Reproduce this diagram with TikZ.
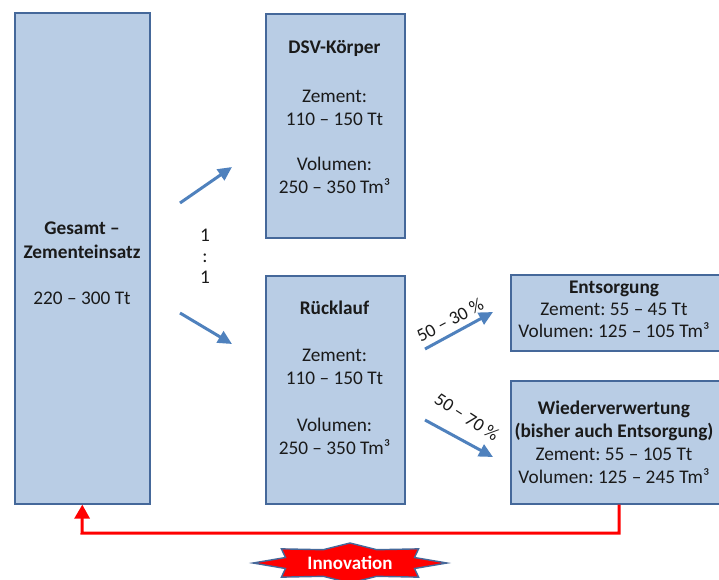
\documentclass[tikz,border=0pt]{standalone}
\usepackage{fontspec}
\setmainfont{Carlito}
\frenchspacing
\usetikzlibrary{arrows.meta}
\definecolor{boxfill}{HTML}{B9CDE5}
\definecolor{boxline}{HTML}{45689A}
\definecolor{flowblue}{HTML}{4F81BD}
\definecolor{txtcol}{HTML}{1A1A1A}
\tikzset{
  box/.style={draw=boxline, fill=boxfill, line width=1.6pt, inner sep=0pt},
  txt/.style={align=center, text=txtcol, inner sep=0pt,
    font=\fontsize{19.3}{23}\selectfont},
  flow/.style={draw=flowblue, line width=3pt,
    -{Triangle[length=14pt,width=13pt]}},
  back/.style={draw=red, line width=3pt,
    -{Triangle[length=14pt,width=15pt]}},
  pct/.style={text=txtcol, inner sep=0pt, font=\fontsize{18.5}{20}\selectfont},
}
\begin{document}
\begin{tikzpicture}[x=1pt, y=-1pt]
\useasboundingbox (0,0) rectangle (719,579);
\begin{scope}
\clip (0,0) rectangle (719,579);

% boxes
\node[box, anchor=north west, minimum width=135pt, minimum height=491pt] (total) at (14,12) {};
\node[box, anchor=north west, minimum width=139pt, minimum height=224pt] (dsv) at (265,13) {};
\node[box, anchor=north west, minimum width=139pt, minimum height=228pt] (ruck) at (265,275) {};
\node[box, anchor=north west, minimum width=214pt, minimum height=76pt] (ents) at (510,274) {};
\node[box, anchor=north west, minimum width=214pt, minimum height=123pt] (wied) at (510,380) {};

% box texts
\node[txt, font=\fontsize{19.3}{24}\selectfont] (ttotal) at (82,263) {\textbf{Gesamt --}\\ \textbf{Zementeinsatz}\\[22pt] 220 -- 300 Tt};
\node[txt] (tdsv) at (334.5,117) {\textbf{DSV-Körper}\\[26pt] Zement:\\ 110 -- 150 Tt\\[22pt] Volumen:\\ 250 -- 350 Tm³};
\node[txt] (truck) at (334.5,378) {\textbf{Rücklauf}\\[24pt] Zement:\\ 110 -- 150 Tt\\[24pt] Volumen:\\ 250 -- 350 Tm³};
\node[txt, font=\fontsize{19.3}{22}\selectfont] (tents) at (614,309) {\textbf{Entsorgung}\\ Zement: 55 -- 45 Tt\\ Volumen: 125 -- 105 Tm³};
\node[txt, font=\fontsize{19.3}{23}\selectfont] (twied) at (614,442.5) {\textbf{Wiederverwertung}\\ \textbf{(bisher auch Entsorgung)}\\ Zement: 55 -- 105 Tt\\ Volumen: 125 -- 245 Tm³};

% ratio
\node[txt] (ratio) at (205,256) {1\\[-2pt]:\\[-2pt]1};

% split arrows
\coordinate (a1s) at (180,203); \coordinate (a1e) at (232,167);
\coordinate (a2s) at (180,313); \coordinate (a2e) at (232,344);
\coordinate (a3s) at (425,349); \coordinate (a3e) at (493,312);
\coordinate (a4s) at (425,420); \coordinate (a4e) at (493,457);
\draw[flow] (a1s) -- (a1e);
\draw[flow] (a2s) -- (a2e);
\draw[flow] (a3s) -- (a3e);
\draw[flow] (a4s) -- (a4e);
\node[pct, rotate=28] (p1) at (450,320) {50 -- 30 \%};
\node[pct, rotate=-33] (p2) at (467,417) {50 -- 70 \%};

% feedback loop
\coordinate (r1) at (wied.south -| 619,0);
\coordinate (r2) at (619,533);
\coordinate (r3) at (82,533);
\draw[back] (r1) -- (r2) -- (r3) -- (total.south);

% innovation star
\begin{scope}[shift={(350,563)}, xscale=97, yscale=20]
  \fill[red, draw=boxline, line width=1.4pt]
    (0:1) \foreach \k in {1,...,15} {
      -- ({\k*22.5}:{mod(\k,2)==0 ? 1 : 0.72})
    } -- cycle;
\end{scope}
\node[inner sep=0pt, text=white, font=\fontsize{19}{20}\selectfont\bfseries] (innov) at (350,563) {Innovation};
\end{scope}
\end{tikzpicture}
\end{document}
